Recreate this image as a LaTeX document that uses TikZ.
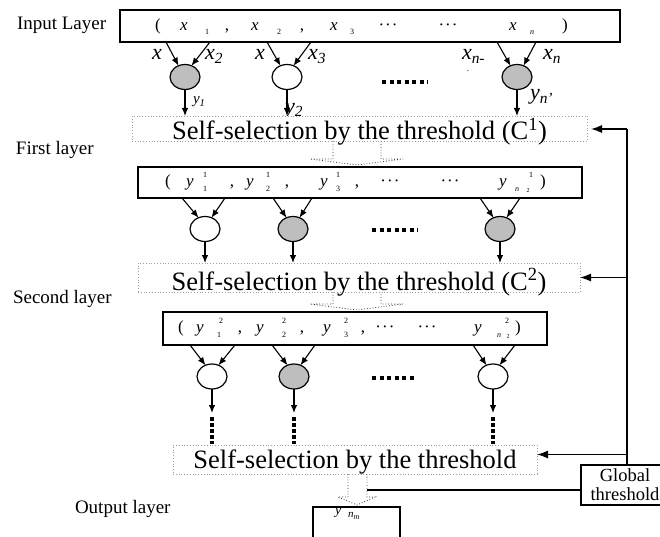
\documentclass[tikz,border=0pt]{standalone}
\usepackage{fontspec}
\setmainfont{Liberation Serif}
\usetikzlibrary{arrows.meta,calc,shapes.geometric}
\definecolor{ngray}{RGB}{190,190,190}
\newcommand\fs[1]{\fontsize{#1}{#1}\selectfont}
\newcommand\putat[3]{\rlap{\hspace*{#1pt}\makebox[0pt]{\raisebox{#2pt}[0pt][0pt]{#3}}}\ignorespaces}
\newcommand\rowtxt[2]{\hbox to #1pt{\vphantom{(}\ignorespaces#2\hfil}}
\newcommand\mdots{·\kern1pt·\kern1pt·}
\begin{document}
\begin{tikzpicture}[x=1pt,y=-1pt,
  every node/.style={inner sep=0pt, outer sep=0pt},
  rowbox/.style={draw, line width=1.6pt, anchor=north west, font=\fs{17}},
  selbox/.style={draw=gray!75, dotted, line width=0.8pt, fill=white, font=\fs{26.5}},
  neuron/.style={ellipse, draw, line width=1.2pt, minimum width=30pt, minimum height=25pt},
  gneuron/.style={neuron, fill=ngray},
  wneuron/.style={neuron, fill=white},
  sarr/.style={-{Latex[length=8pt,width=6.5pt]}, line width=1.1pt},
  barr/.style={-{Latex[length=11pt,width=8pt]}, line width=1.3pt},
  dotrow/.style={line width=4pt, dash pattern=on 4pt off 3.5pt},
  vdots/.style={line width=4.5pt, dash pattern=on 3.5pt off 2.5pt},
  hollow/.style={dotted, line width=0.8pt, draw=black!80},
  layerlab/.style={anchor=base west, font=\fs{19}},
  xlab/.style={anchor=base west, font=\fs{22}\itshape},
]
\useasboundingbox (0,0) rectangle (660,537);
\clip (0,0) rectangle (660,537);

% layer labels
\node[layerlab] (L0) at (17,30) {Input Layer};
\node[layerlab] (L1) at (16,155) {First layer};
\node[layerlab] (L2) at (13,303) {Second layer};
\node[layerlab] (L3) at (75,513) {Output layer};

% input row
\node[rowbox, minimum width=500pt, minimum height=32pt] (in) at (120,10) {\rowtxt{500}{%
\putat{38}{0}{(}
\putat{64}{0}{\itshape x}
\putat{87}{-4}{\fs{8}1}
\putat{107}{0}{,}
\putat{135}{0}{\itshape x}
\putat{159}{-4}{\fs{8}2}
\putat{182}{0}{,}
\putat{214}{0}{\itshape x}
\putat{232}{-4}{\fs{8}3}
\putat{268}{0}{\mdots}
\putat{328}{0}{\mdots}
\putat{393}{0}{\itshape x}
\putat{412}{-4}{\fs{8}\itshape n}
\putat{445}{0}{)}}};

\node[gneuron] (a1) at (185,77) {};
\node[wneuron] (a2) at (287,77) {};
\node[gneuron] (a3) at (517,77) {};

\node[xlab] (lx1) at (152,60) {x};
\node[xlab] (lx2) at (205,60) {x\textsubscript{2}};
\node[xlab] (lx3) at (255,60) {x};
\node[xlab] (lx4) at (308,60) {x\textsubscript{3}};
\node[xlab] (lx5) at (462,60) {x\textsubscript{n-}};
\node[xlab] (lx6) at (543,60) {x\textsubscript{n}};
\node[anchor=base, font=\fs{9}] (dm) at (468,72) {.};

\draw[sarr] ($(a1 |- in.south)+(-19,0)$) -- (a1.120);
\draw[sarr] ($(a1 |- in.south)+(25,0)$) -- (a1.60);
\draw[sarr] ($(a2 |- in.south)+(-20,0)$) -- (a2.120);
\draw[sarr] ($(a2 |- in.south)+(24,0)$) -- (a2.60);
\draw[sarr] ($(a3 |- in.south)+(-20,0)$) -- (a3.120);
\draw[sarr] ($(a3 |- in.south)+(19,0)$) -- (a3.60);
\draw[dotrow] (382,82) -- (428,82);

\node[anchor=base west, font=\fs{15}\itshape] (ly1) at (193,104) {y\textsubscript{1}};
\node[xlab] (ly2) at (285,113.5) {y\textsubscript{2}};
\node[xlab] (ly3) at (530,100) {y\textsubscript{n'}};

% first selection
\node[selbox, minimum width=455pt, minimum height=25pt] (s1) at (359.5,128.5)
  {\raisebox{-11.5pt}[0pt][0pt]{Self-selection by the threshold (C\textsuperscript{1})}};
\draw[sarr] (a1.south) -- (a1 |- s1.north);
\draw[sarr] (a2.south) -- (a2 |- s1.north);
\draw[sarr] (a3.south) -- (a3 |- s1.north);

% first layer row
\node[rowbox, minimum width=444pt, minimum height=31pt] (r2) at (138,167) {\rowtxt{444}{%
\putat{30}{0}{(}
\putat{52}{0}{\itshape y}
\putat{67}{9}{\fs{8}1}
\putat{67}{-5}{\fs{8}1}
\putat{94}{0}{,}
\putat{112}{0}{\itshape y}
\putat{130}{9}{\fs{8}1}
\putat{130}{-5}{\fs{8}2}
\putat{149}{0}{,}
\putat{186}{0}{\itshape y}
\putat{200}{9}{\fs{8}1}
\putat{200}{-5}{\fs{8}3}
\putat{219}{0}{,}
\putat{252}{0}{\mdots}
\putat{312}{0}{\mdots}
\putat{365}{0}{\itshape y}
\putat{379}{-5}{\fs{8}\itshape n}
\putat{390}{-6}{\fs{6}2}
\putat{393}{9}{\fs{8}1}
\putat{405}{0}{)}}};
\draw[hollow] (s1.south -| 333,0) -- (333,159) -- (310,159) -- (357,165) -- (403,159) -- (381,159) -- (s1.south -| 381,0);

\node[wneuron] (b1) at (205,229) {};
\node[gneuron] (b2) at (293,229) {};
\node[gneuron] (b3) at (500,229) {};
\draw[sarr] ($(b1 |- r2.south)+(-23,0)$) -- (b1.120);
\draw[sarr] ($(b1 |- r2.south)+(20,0)$) -- (b1.60);
\draw[sarr] ($(b2 |- r2.south)+(-20,0)$) -- (b2.120);
\draw[sarr] ($(b2 |- r2.south)+(19,0)$) -- (b2.60);
\draw[sarr] ($(b3 |- r2.south)+(-20,0)$) -- (b3.120);
\draw[sarr] ($(b3 |- r2.south)+(20,0)$) -- (b3.60);
\draw[dotrow] (372,230) -- (418,230);

% second selection
\node[selbox, minimum width=442pt, minimum height=29pt] (s2) at (359,277.5)
  {\raisebox{-12.5pt}[0pt][0pt]{Self-selection by the threshold (C\textsuperscript{2})}};
\draw[sarr] (b1.south) -- (b1 |- s2.north);
\draw[sarr] (b2.south) -- (b2 |- s2.north);
\draw[sarr] (b3.south) -- (b3 |- s2.north);

% second layer row
\node[rowbox, minimum width=384pt, minimum height=33pt] (r3) at (163,312) {\rowtxt{384}{%
\putat{18}{0}{(}
\putat{37}{0}{\itshape y}
\putat{58}{9}{\fs{8}2}
\putat{56}{-5}{\fs{8}1}
\putat{77}{0}{,}
\putat{97}{0}{\itshape y}
\putat{121}{9}{\fs{8}2}
\putat{121}{-5}{\fs{8}2}
\putat{139}{0}{,}
\putat{164}{0}{\itshape y}
\putat{183}{9}{\fs{8}2}
\putat{183}{-5}{\fs{8}3}
\putat{200}{0}{,}
\putat{222}{0}{\mdots}
\putat{264}{0}{\mdots}
\putat{315}{0}{\itshape y}
\putat{336}{-5}{\fs{8}\itshape n}
\putat{345}{-6}{\fs{6}2}
\putat{344}{9}{\fs{8}2}
\putat{355}{0}{)}}};
\draw[hollow] (s2.south -| 333,0) -- (333,304) -- (310,304) -- (357,310) -- (403,304) -- (381,304) -- (s2.south -| 381,0);

\node[wneuron] (c1) at (212,376.5) {};
\node[gneuron] (c2) at (294,376.5) {};
\node[wneuron] (c3) at (493,376.5) {};
\draw[sarr] ($(c1 |- r3.south)+(-22,0)$) -- (c1.120);
\draw[sarr] ($(c1 |- r3.south)+(23,0)$) -- (c1.60);
\draw[sarr] ($(c2 |- r3.south)+(-22,0)$) -- (c2.120);
\draw[sarr] ($(c2 |- r3.south)+(21,0)$) -- (c2.60);
\draw[sarr] ($(c3 |- r3.south)+(-20,0)$) -- (c3.120);
\draw[sarr] ($(c3 |- r3.south)+(22,0)$) -- (c3.60);
\draw[dotrow] (372,378) -- (415,378);

% final selection
\node[selbox, minimum width=364pt, minimum height=29pt] (s3) at (355,459.5)
  {\raisebox{-8.5pt}[0pt][0pt]{Self-selection by the threshold}};
\foreach \c in {c1,c2,c3}{
  \coordinate (\c e) at (\c |- 0,413);
  \draw[sarr] (\c.south) -- (\c e);
  \draw[vdots] ($(\c e)+(0,4)$) -- ($(\c |- s3.north)+(0,-1.5)$);
}

% output
\node[draw, line width=1.6pt, minimum width=87pt, minimum height=60pt, anchor=north] (out) at (356.5,507) {};
\node[anchor=base west, font=\fs{14}\itshape] (ynm) at (335,514)
  {y\hspace{7pt}\raisebox{-3pt}{\fs{11}n\raisebox{-2.5pt}{\fs{8}m}}};
\draw[hollow] (s3.south -| 348,0) -- (348,497) -- (338,497) -- (357,505) -- (375,497) -- (367,497) -- (s3.south -| 367,0);

% global threshold
\node[draw, line width=1.3pt, fill=white, minimum width=88pt, minimum height=40pt, align=center,
  font=\fontsize{18.5}{19}\selectfont] (gl) at (625,485) {Global\\threshold};
\coordinate (rt) at (627,129);
\coordinate (hs) at (367,490);
\draw[line width=1.3pt] (rt) -- (rt |- gl.north);
\draw[barr] (rt) -- ($(rt -| s1.east)+(4,0)$);
\draw[barr] (rt |- s2.east) -- (s2.east);
\draw[barr] ($(rt |- s3.east)+(0,-5)$) -- ($(s3.east)+(0,-5)$);
\draw[line width=1.3pt] (gl.west |- hs) -- (hs);
\end{tikzpicture}
\end{document}
